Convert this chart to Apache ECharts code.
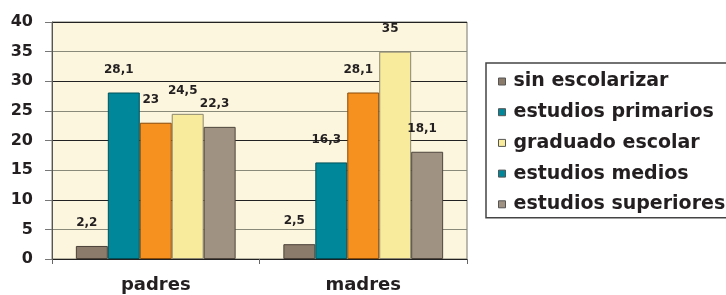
<!DOCTYPE html>
<html>
<head>
<meta charset="utf-8">
<script src="https://cdn.jsdelivr.net/npm/echarts@6/dist/echarts.min.js"></script>
<style>
  html, body { margin: 0; padding: 0; background: #fff; }
  #chart { width: 726px; height: 295px; }
</style>
</head>
<body>
<div id="chart"></div>
<script>
// grupos
const categories = ['padres', 'madres']
// series (orden de la leyenda)
const seriesNames = ['sin escolarizar', 'estudios primarios', 'graduado escolar', 'estudios medios', 'estudios superiores']
const sinEscolarizar = [2.2, 2.5]
const estudiosPrimarios = [28.1, 16.3]
const graduadoEscolar = [23, 28.1]
const estudiosMedios = [24.5, 35]
const estudiosSuperiores = [22.3, 18.1]
const yTicks = [0, 5, 10, 15, 20, 25, 30, 35, 40]

const values = [sinEscolarizar, estudiosPrimarios, graduadoEscolar, estudiosMedios, estudiosSuperiores]
const barColors = ['#8b7b6b', '#00889a', '#f6901f', '#f8ec9c', '#a09282']
const barBorders = ['#4a4038', '#00505a', '#8a4a08', '#8c8670', '#4f463e']
// la leyenda original no coincide con las barras
const legendColors = ['#8b7b6b', '#00889a', '#f8ec9c', '#00889a', '#a09282']

const font = 'DejaVu Sans'
const ink = '#231f20'

const chart = echarts.init(document.getElementById('chart'))
const option = {
  animation: false,
  grid: {
    left: 52,
    right: 259,
    top: 22,
    bottom: 36,
    show: true,
    backgroundColor: '#fbf6dd',
    borderColor: '#77776d',
    borderWidth: 1
  },
  legend: {
    orient: 'vertical',
    left: 486,
    top: 63,
    padding: [9, 30, 4, 12],
    itemGap: 11.7,
    itemWidth: 7,
    itemHeight: 7,
    icon: 'rect',
    borderColor: '#444',
    borderWidth: 1.5,
    textStyle: {
      fontFamily: font,
      fontWeight: 'bold',
      fontSize: 19,
      lineHeight: 18,
      color: ink,
      padding: [0, 0, 0, 3]
    },
    data: seriesNames.map((n, i) => ({
      name: n,
      itemStyle: { color: legendColors[i], borderColor: '#555', borderWidth: 1 }
    }))
  },
  xAxis: {
    type: 'category',
    data: categories,
    axisLine: { lineStyle: { color: '#222', width: 1 } },
    axisTick: { show: true, length: 5, lineStyle: { color: '#666' } },
    axisLabel: {
      margin: 17,
      fontFamily: font,
      fontWeight: 'bold',
      fontSize: 18,
      color: ink
    }
  },
  yAxis: {
    type: 'value',
    min: yTicks[0],
    max: yTicks[yTicks.length - 1],
    interval: 5,
    axisLine: { show: true, lineStyle: { color: '#555', width: 1 } },
    axisTick: { show: true, length: 7, lineStyle: { color: '#777' } },
    splitLine: { lineStyle: { color: ['#222', '#8a8a7a'], width: 1 } },
    axisLabel: {
      margin: 19,
      fontFamily: font,
      fontWeight: 'bold',
      fontSize: 16,
      color: ink
    }
  },
  series: seriesNames.map((n, i) => ({
    name: n,
    type: 'bar',
    data: values[i],
    barGap: 0,
    barCategoryGap: '23%',
    itemStyle: { color: barColors[i], borderColor: barBorders[i], borderWidth: 1 },
    label: {
      show: true,
      position: 'top',
      distance: 17,
      offset: [-5, 0],
      fontFamily: font,
      fontWeight: 'bold',
      fontSize: 12,
      color: ink,
      formatter: p => String(p.value).replace('.', ',')
    }
  }))
}
chart.setOption(option)
</script>
</body>
</html>
